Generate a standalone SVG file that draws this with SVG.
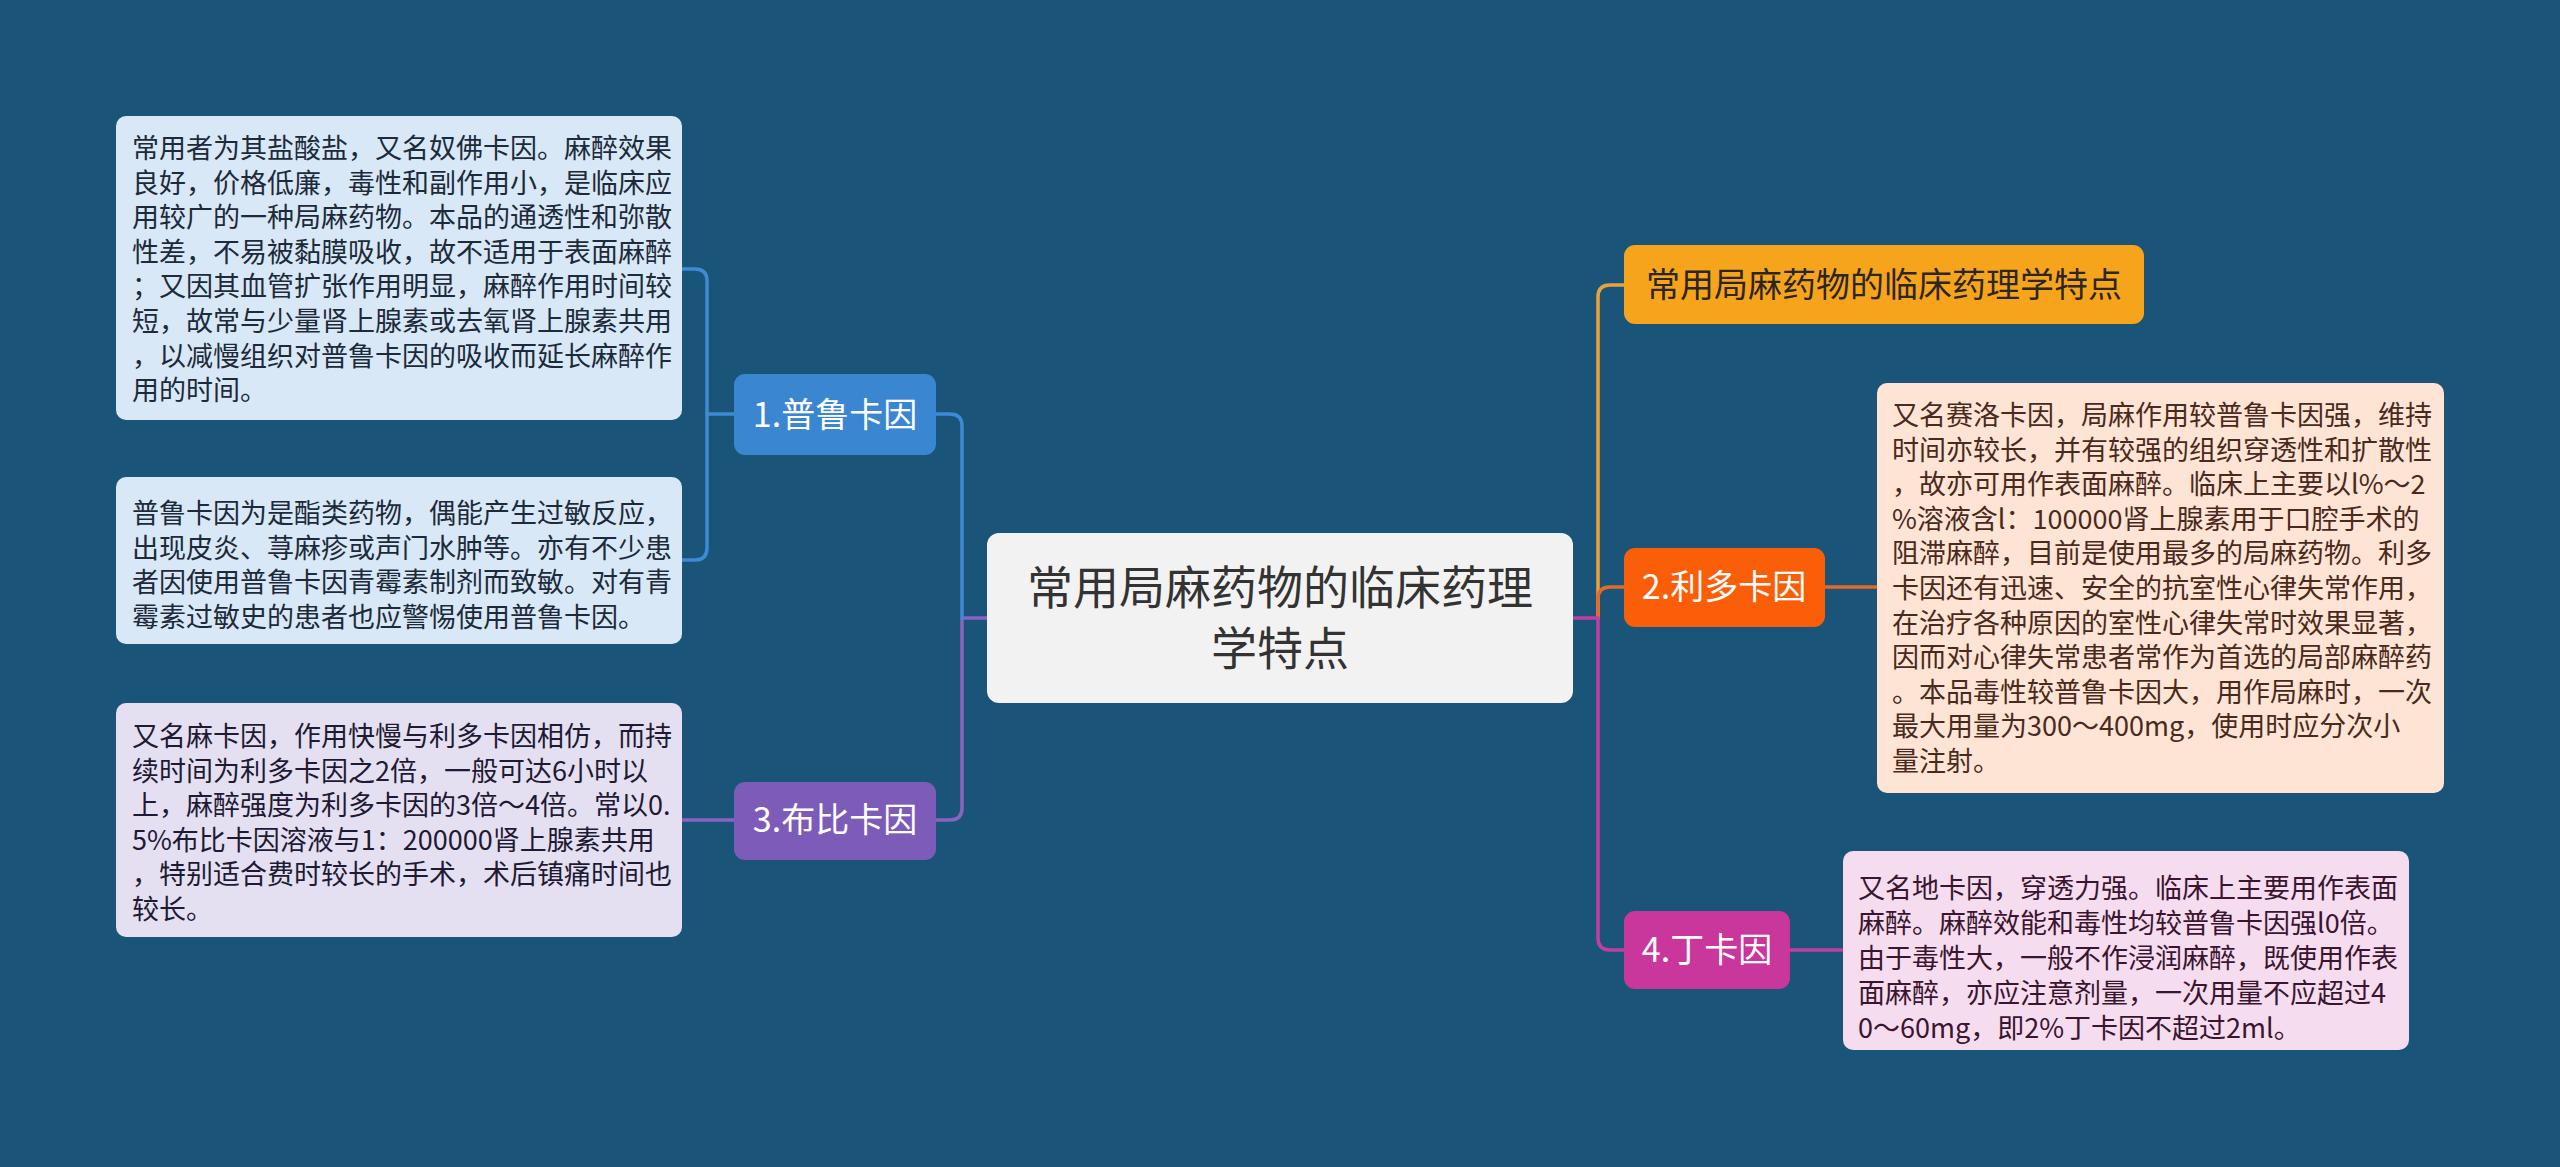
<svg xmlns="http://www.w3.org/2000/svg" width="2560" height="1167" viewBox="0 0 2560 1167">
<style>
text{font-family:"Noto Sans CJK SC","Noto Sans",sans-serif;}
.conn{fill:none;stroke-width:3.5;stroke-linecap:round;stroke-linejoin:round;}
.leaf{font-size:27px;}
.br{font-size:34px;fill:#ffffff;}
</style>
<rect x="0" y="0" width="2560" height="1167" fill="#1b5479"/>
<g id="connectors">
  <path class="conn" stroke="#8a62c2" d="M987 618 H962 V808 Q962 820 950 820 H936"/>
  <path class="conn" stroke="#3d8ad6" d="M936 414 H950 Q962 414 962 426 V618"/>
  <path class="conn" stroke="#3d8ad6" d="M734 414 H707"/>
  <path class="conn" stroke="#3d8ad6" d="M682 269 H695 Q707 269 707 281 V548 Q707 560 695 560 H682"/>
  <path class="conn" stroke="#8a62c2" d="M734 820 H682"/>
  <path class="conn" stroke="#e8a43a" d="M1624 285 H1610 Q1598 285 1598 297 V618"/>
  <path class="conn" stroke="#e46a28" d="M1624 587 H1610 Q1598 587 1598 599 V618"/>
  <path class="conn" stroke="#c23ea4" d="M1573 618 H1598 V938 Q1598 950 1610 950 H1624"/>
  <path class="conn" stroke="#e46a28" d="M1825 587 H1877"/>
  <path class="conn" stroke="#c23ea4" d="M1790 950 H1843"/>
</g>
<g id="center">
  <rect x="987" y="533" width="586" height="170" rx="12" fill="#f2f2f2"/>
  <text x="1280" y="604" font-size="46" fill="#333333" text-anchor="middle">常用局麻药物的临床药理</text>
  <text x="1280" y="665" font-size="46" fill="#333333" text-anchor="middle">学特点</text>
</g>
<g id="b1">
  <rect x="734" y="374" width="202" height="81" rx="11" fill="#3a86d0"/>
  <text class="br" x="835" y="427" text-anchor="middle">1.普鲁卡因</text>
</g>
<g id="b3">
  <rect x="734" y="782" width="202" height="78" rx="11" fill="#7d5bb8"/>
  <text class="br" x="835" y="832" text-anchor="middle">3.布比卡因</text>
</g>
<g id="top">
  <rect x="1624" y="245" width="520" height="79" rx="11" fill="#f7a41d"/>
  <text x="1884" y="297" font-size="34" fill="#2b2620" text-anchor="middle">常用局麻药物的临床药理学特点</text>
</g>
<g id="b2">
  <rect x="1624" y="548" width="201" height="79" rx="11" fill="#fb5e08"/>
  <text class="br" x="1724" y="599" text-anchor="middle">2.利多卡因</text>
</g>
<g id="b4">
  <rect x="1624" y="911" width="166" height="78" rx="11" fill="#c9369c"/>
  <text class="br" x="1707" y="962" text-anchor="middle">4.丁卡因</text>
</g>
<g id="leaf1">
  <rect x="116" y="116" width="566" height="304" rx="10" fill="#d8e8f6"/>
  <text class="leaf" fill="#1c2a3a">
    <tspan x="132" y="158">常用者为其盐酸盐，又名奴佛卡因。麻醉效果</tspan>
    <tspan x="132" y="192.6">良好，价格低廉，毒性和副作用小，是临床应</tspan>
    <tspan x="132" y="227.2">用较广的一种局麻药物。本品的通透性和弥散</tspan>
    <tspan x="132" y="261.8">性差，不易被黏膜吸收，故不适用于表面麻醉</tspan>
    <tspan x="132" y="296.4">；又因其血管扩张作用明显，麻醉作用时间较</tspan>
    <tspan x="132" y="331">短，故常与少量肾上腺素或去氧肾上腺素共用</tspan>
    <tspan x="132" y="365.6">，以减慢组织对普鲁卡因的吸收而延长麻醉作</tspan>
    <tspan x="132" y="400.2">用的时间。</tspan>
  </text>
</g>
<g id="leaf2">
  <rect x="116" y="477" width="566" height="167" rx="10" fill="#d8e8f6"/>
  <text class="leaf" fill="#1c2a3a">
    <tspan x="132" y="523">普鲁卡因为是酯类药物，偶能产生过敏反应，</tspan>
    <tspan x="132" y="557.6">出现皮炎、荨麻疹或声门水肿等。亦有不少患</tspan>
    <tspan x="132" y="592.2">者因使用普鲁卡因青霉素制剂而致敏。对有青</tspan>
    <tspan x="132" y="626.8">霉素过敏史的患者也应警惕使用普鲁卡因。</tspan>
  </text>
</g>
<g id="leaf3">
  <rect x="116" y="703" width="566" height="234" rx="10" fill="#e4e0f2"/>
  <text class="leaf" fill="#1f1a33">
    <tspan x="132" y="746">又名麻卡因，作用快慢与利多卡因相仿，而持</tspan>
    <tspan x="132" y="780.6">续时间为利多卡因之2倍，一般可达6小时以</tspan>
    <tspan x="132" y="815.2">上，麻醉强度为利多卡因的3倍～4倍。常以0.</tspan>
    <tspan x="132" y="849.8">5%布比卡因溶液与1：200000肾上腺素共用</tspan>
    <tspan x="132" y="884.4">，特别适合费时较长的手术，术后镇痛时间也</tspan>
    <tspan x="132" y="919">较长。</tspan>
  </text>
</g>
<g id="leaf4">
  <rect x="1877" y="383" width="567" height="410" rx="10" fill="#fde4d4"/>
  <text class="leaf" fill="#4a2a1c">
    <tspan x="1892" y="425">又名赛洛卡因，局麻作用较普鲁卡因强，维持</tspan>
    <tspan x="1892" y="459.6">时间亦较长，并有较强的组织穿透性和扩散性</tspan>
    <tspan x="1892" y="494.2">，故亦可用作表面麻醉。临床上主要以l%～2</tspan>
    <tspan x="1892" y="528.8">%溶液含l：100000肾上腺素用于口腔手术的</tspan>
    <tspan x="1892" y="563.4">阻滞麻醉，目前是使用最多的局麻药物。利多</tspan>
    <tspan x="1892" y="598">卡因还有迅速、安全的抗室性心律失常作用，</tspan>
    <tspan x="1892" y="632.6">在治疗各种原因的室性心律失常时效果显著，</tspan>
    <tspan x="1892" y="667.2">因而对心律失常患者常作为首选的局部麻醉药</tspan>
    <tspan x="1892" y="701.8">。本品毒性较普鲁卡因大，用作局麻时，一次</tspan>
    <tspan x="1892" y="736.4">最大用量为300～400mg，使用时应分次小</tspan>
    <tspan x="1892" y="771">量注射。</tspan>
  </text>
</g>
<g id="leaf5">
  <rect x="1843" y="851" width="566" height="199" rx="10" fill="#f5dcee"/>
  <text class="leaf" fill="#3a1530">
    <tspan x="1858" y="898">又名地卡因，穿透力强。临床上主要用作表面</tspan>
    <tspan x="1858" y="933">麻醉。麻醉效能和毒性均较普鲁卡因强l0倍。</tspan>
    <tspan x="1858" y="968">由于毒性大，一般不作浸润麻醉，既使用作表</tspan>
    <tspan x="1858" y="1003">面麻醉，亦应注意剂量，一次用量不应超过4</tspan>
    <tspan x="1858" y="1038">0～60mg，即2%丁卡因不超过2ml。</tspan>
  </text>
</g>
</svg>
